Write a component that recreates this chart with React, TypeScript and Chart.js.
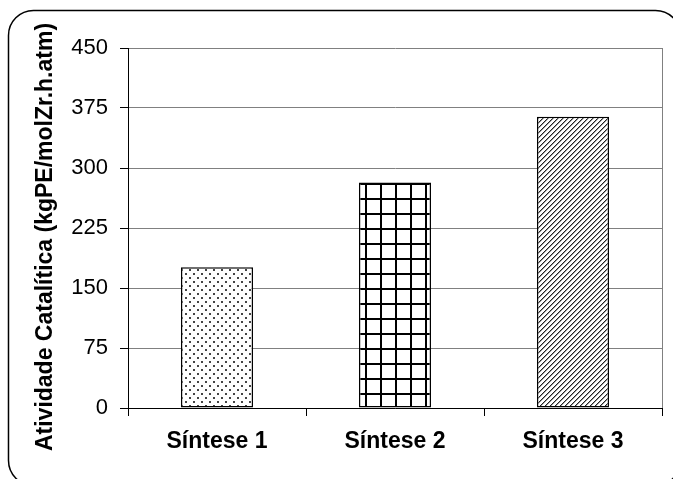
import React, { useEffect, useRef } from "react";
import { Chart, registerables } from "chart.js";

Chart.register(...registerables);

const categories = ["Síntese 1", "Síntese 2", "Síntese 3"];
const values = [176, 282, 364];
const yTicks = [0, 75, 150, 225, 300, 375, 450];
const yTitle = "Atividade Catalítica (kgPE/molZr.h.atm)";

const FONT = "'Liberation Sans', Arial, sans-serif";

function makeTile(w: number, h: number, draw: (c: CanvasRenderingContext2D) => void) {
  const t = document.createElement("canvas");
  t.width = w;
  t.height = h;
  const c = t.getContext("2d")!;
  c.fillStyle = "#fff";
  c.fillRect(0, 0, w, h);
  draw(c);
  return t;
}

export default function App() {
  const ref = useRef<HTMLCanvasElement | null>(null);

  useEffect(() => {
    const canvas = ref.current!;
    const ctx0 = canvas.getContext("2d")!;

    const dots = makeTile(8, 8, (c) => {
      c.fillStyle = "#444";
      c.fillRect(1, 1, 2, 2);
      c.fillRect(5, 5, 2, 2);
    });
    const grid = makeTile(15, 15, (c) => {
      c.fillStyle = "#000";
      c.fillRect(5, 0, 2, 15);
      c.fillRect(0, 3, 15, 2);
    });
    const hatch = makeTile(5, 5, (c) => {
      for (let x = 0; x < 5; x++)
        for (let y = 0; y < 5; y++) {
          const m = (x + y) % 5;
          if (m < 2) {
            c.fillStyle = m === 0 ? "#222" : "#999";
            c.fillRect(x, y, 1, 1);
          }
        }
    });
    const patterns = [
      ctx0.createPattern(dots, "repeat")!,
      ctx0.createPattern(grid, "repeat")!,
      ctx0.createPattern(hatch, "repeat")!,
    ];

    const framePlugin = {
      id: "frame",
      afterDraw(chart: any) {
        const { ctx, chartArea } = chart;
        const { right, top, bottom } = chartArea;
        ctx.save();
        // plot area right border
        ctx.strokeStyle = "#808080";
        ctx.lineWidth = 1;
        ctx.beginPath();
        ctx.moveTo(right + 0.5, top);
        ctx.lineTo(right + 0.5, bottom);
        ctx.stroke();
        // outer rounded frame
        ctx.strokeStyle = "#000";
        ctx.lineWidth = 1.5;
        ctx.beginPath();
        ctx.roundRect(8.5, 10.5, 672, 475, 25);
        ctx.stroke();
        // y-axis title
        ctx.translate(46, 237);
        ctx.rotate(-Math.PI / 2);
        ctx.fillStyle = "#000";
        ctx.font = `bold 23px ${FONT}`;
        ctx.textAlign = "center";
        ctx.textBaseline = "middle";
        ctx.fillText(yTitle, 0, 0);
        ctx.restore();
      },
    };

    const chart = new Chart(canvas, {
      type: "bar",
      data: {
        labels: categories,
        datasets: [
          {
            data: values,
            backgroundColor: patterns as any,
            borderColor: "#000",
            borderWidth: 1.5,
            borderSkipped: false,
            categoryPercentage: 1,
            barPercentage: 0.405,
          },
        ],
      },
      options: {
        animation: false,
        responsive: false,
        devicePixelRatio: 1,
        layout: { padding: { top: 48, right: 11, left: 0, bottom: 0 } },
        plugins: { legend: { display: false }, tooltip: { enabled: false } },
        scales: {
          x: {
            afterFit: (s: any) => {
              s.height = 71;
            },
            grid: {
              offset: true,
              drawOnChartArea: false,
              tickLength: 8,
              color: "#000",
            },
            border: { color: "#000", width: 1 },
            ticks: {
              color: "#000",
              padding: 12,
              font: { family: FONT, size: 23, weight: "bold" },
            },
          },
          y: {
            min: 0,
            max: 450,
            afterFit: (s: any) => {
              s.width = 128;
            },
            afterBuildTicks: (s: any) => {
              s.ticks = yTicks.map((v) => ({ value: v }));
            },
            grid: {
              color: "#808080",
              tickColor: "#000",
              tickLength: 8,
              lineWidth: 1,
            },
            border: { color: "#000", width: 1 },
            ticks: {
              color: "#000",
              padding: 12,
              font: { family: FONT, size: 22 },
            },
          },
        },
      },
      plugins: [framePlugin],
    });

    return () => chart.destroy();
  }, []);

  return (
    <div style={{ position: "fixed", left: 0, top: 0, width: 673, height: 479, background: "#fff" }}>
      <canvas ref={ref} width={673} height={479} style={{ width: 673, height: 479, display: "block" }} />
    </div>
  );
}
